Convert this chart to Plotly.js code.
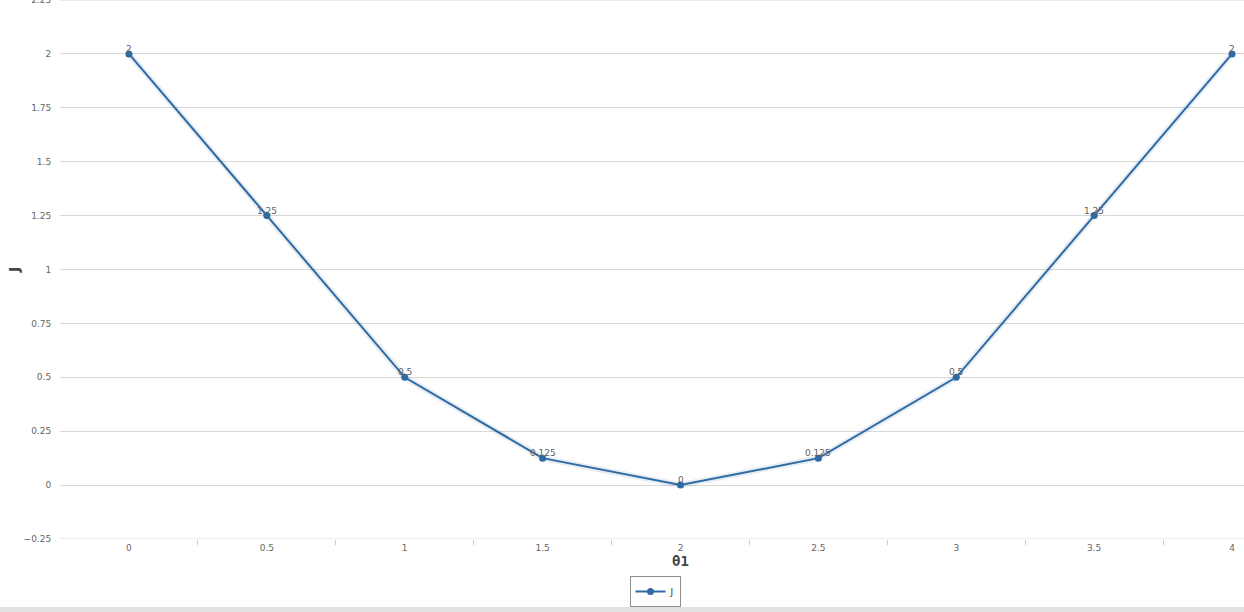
<!DOCTYPE html>
<html>
<head>
<meta charset="utf-8">
<script src="https://cdn.plot.ly/plotly-3.0.1.min.js"></script>
<style>
html, body { margin:0; padding:0; overflow:hidden; background:#fff; width:1244px; height:612px; }
#chart { position:absolute; left:0; top:0; }
#bar { position:absolute; left:0; top:607px; width:1244px; height:5px; background:#e1e1e1; }
</style>
</head>
<body>
<div id="chart"></div>
<div id="bar"></div>
<script>
// Data
const theta1 = [0, 0.5, 1, 1.5, 2, 2.5, 3, 3.5, 4];
const J = [2, 1.25, 0.5, 0.125, 0, 0.125, 0.5, 1.25, 2];
const xTickLabels = ['0', '0.5', '1', '1.5', '2', '2.5', '3', '3.5', '4'];
const yTickVals = [-0.25, 0, 0.25, 0.5, 0.75, 1, 1.25, 1.5, 1.75, 2, 2.25];
const yTickLabels = ['−0.25', '0', '0.25', '0.5', '0.75', '1', '1.25', '1.5', '1.75', '2', '2.25'];
const minorTicks = theta1.slice(1).map(v => v - 0.25);
const yMin = -0.25, yMax = 2.25;

const lineColor = '#2f6aa3';

const shadow = {
  x: theta1, y: J, type: 'scatter', mode: 'lines',
  line: { color: 'rgba(47,106,163,0.12)', width: 6 },
  hoverinfo: 'skip', showlegend: false
};
const main = {
  x: theta1, y: J, type: 'scatter', mode: 'lines+markers', name: 'J',
  line: { color: lineColor, width: 2 },
  marker: { color: lineColor, size: 7 }
};

const labels = theta1.map((x, i) => ({
  x: x, y: J[i], text: String(J[i]), showarrow: false,
  xanchor: 'center', yanchor: 'bottom', yshift: -2,
  font: { family: 'DejaVu Sans, sans-serif', size: 9, color: '#606060' }
}));

const edgeLines = [yMin, yMax].map(v => ({
  type: 'line', xref: 'paper', x0: 0, x1: 1, yref: 'y', y0: v, y1: v,
  line: { color: '#d8d8d8', width: 1 }, layer: 'below'
}));

const W = 1310, ML = 60, MR = 9;

const layout = {
  width: W, height: 607,
  margin: { l: ML, r: MR, t: 0, b: 67 },
  paper_bgcolor: '#fff', plot_bgcolor: '#fff',
  font: { family: 'DejaVu Sans, sans-serif', size: 9, color: '#666' },
  showlegend: true,
  legend: {
    orientation: 'h', x: (W / 2 - ML) / (W - ML - MR), xanchor: 'center',
    y: -0.068, yanchor: 'top', itemwidth: 30,
    bordercolor: '#909090', borderwidth: 1,
    font: { family: 'DejaVu Sans, sans-serif', size: 9, color: '#333' }
  },
  annotations: labels,
  shapes: edgeLines,
  xaxis: {
    range: [-0.25, 4.25], tickvals: theta1, ticktext: xTickLabels,
    showgrid: false, zeroline: false, showline: false, ticks: '',
    ticklabelstandoff: 2,
    minor: { tickvals: minorTicks, ticks: 'outside', ticklen: 5, tickcolor: '#c0d0e0', showgrid: false },
    title: { text: 'θ1', standoff: 0, font: { family: 'DejaVu Sans Mono, monospace', size: 14, color: '#444', weight: 'bold' } }
  },
  yaxis: {
    range: [yMin, yMax], tickvals: yTickVals, ticktext: yTickLabels,
    showgrid: true, gridcolor: '#d8d8d8', gridwidth: 1, zeroline: false,
    showline: false, ticks: 'outside', ticklen: 6, tickcolor: 'rgba(0,0,0,0)',
    ticklabeloverflow: 'allow',
    title: { text: 'J', standoff: 0, font: { family: 'DejaVu Sans, sans-serif', size: 14, color: '#444', weight: 'bold' } },
    automargin: false
  },
  hovermode: false
};

Plotly.newPlot('chart', [shadow, main], layout, { displayModeBar: false, staticPlot: true });
</script>
</body>
</html>
